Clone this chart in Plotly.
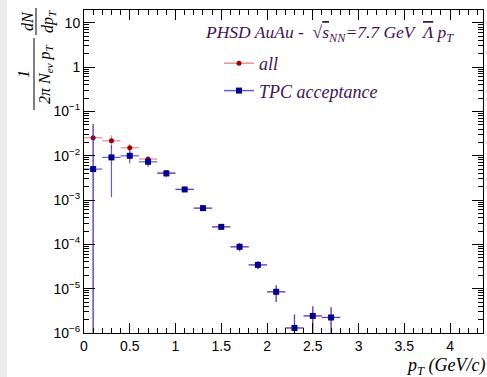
import plotly.graph_objects as go

# ---- data ----
pt = [0.1, 0.3, 0.5, 0.7, 0.9, 1.1, 1.3, 1.5, 1.7, 1.9, 2.1, 2.3, 2.5, 2.7]
pt_half_width = [0.1] * len(pt)

all_vals = [0.0254, 0.0217, 0.0151, 0.0084, 0.0042, 0.00175, 0.000656, 0.000248,
            8.8e-5, 3.44e-5, 8.5e-6, 1.3e-6, 2.43e-6, 2.24e-6]
all_err = [0.026, 0.0070, 0.0035, 0.0012, 0.0004, 0.00010, 2.5e-5, 1.2e-5,
           1.8e-5, 7e-6, 3.5e-6, 1.3e-6, 1.6e-6, 1.56e-6]

tpc_vals = [0.00499, 0.00916, 0.00995, 0.00728, 0.00398, 0.00173, 0.000656, 0.000248,
            8.8e-5, 3.44e-5, 8.5e-6, 1.3e-6, 2.43e-6, 2.24e-6]
tpc_err = [0.047, 0.0080, 0.0033, 0.0017, 0.0007, 0.00012, 3e-5, 1.2e-5,
           1.8e-5, 7e-6, 3.5e-6, 1.3e-6, 1.6e-6, 1.56e-6]

y_tickvals = [1e-6, 1e-5, 1e-4, 1e-3, 1e-2, 1e-1, 1, 10]
y_ticktext = ["10<sup>−6</sup>", "10<sup>−5</sup>", "10<sup>−4</sup>", "10<sup>−3</sup>",
              "10<sup>−2</sup>", "10<sup>−1</sup>", "1", "10"]
x_tickvals = [0, 0.5, 1, 1.5, 2, 2.5, 3, 3.5, 4]
x_ticktext = ["0", "0.5", "1", "1.5", "2", "2.5", "3", "3.5", "4"]

# ---- styling ----
RED_M = "#a00000"
RED_L = "rgba(205,60,60,0.55)"
BLUE_M = "#000090"
BLUE_L = "rgba(40,40,200,0.75)"
TXT = "#3f1552"
SERIF = "Liberation Serif"
SANS = "Liberation Sans"

W, H = 487, 377
L, R, T, B = 84, 4, 10, 44
PW, PH = W - L - R, H - T - B


def px(xp):
    return (xp - L) / PW


def py(yp):
    return (H - B - yp) / PH


fig = go.Figure()

fig.add_trace(go.Scatter(
    x=pt, y=all_vals, mode="markers", showlegend=False,
    marker=dict(symbol="circle", size=5, color=RED_M),
    error_x=dict(type="data", array=pt_half_width, color=RED_L, thickness=1.3, width=0),
    error_y=dict(type="data", array=all_err, color=RED_L, thickness=1.3, width=0),
))
fig.add_trace(go.Scatter(
    x=pt, y=tpc_vals, mode="markers", showlegend=False,
    marker=dict(symbol="square", size=6, color=BLUE_M),
    error_x=dict(type="data", array=pt_half_width, color=BLUE_L, thickness=1.2, width=0),
    error_y=dict(type="data", array=tpc_err, color=BLUE_L, thickness=1.2, width=0),
))

# legend-only entries
fig.add_trace(go.Scatter(
    x=[None], y=[None], mode="lines+markers", name="all", legendgroup="a",
    line=dict(color=RED_L, width=1.5), marker=dict(symbol="circle", size=5, color=RED_M),
))
fig.add_trace(go.Scatter(
    x=[None], y=[None], mode="lines+markers", name="TPC acceptance", legendgroup="b",
    line=dict(color=BLUE_L, width=1.5), marker=dict(symbol="square", size=6, color=BLUE_M),
))

axis_common = dict(
    showline=True, linecolor="black", linewidth=1, mirror="allticks",
    ticks="inside", tickcolor="black", showgrid=False, zeroline=False,
    tickfont=dict(family=SANS, size=14, color="black"),
)

fig.update_xaxes(
    range=[0, 4.36], tickmode="array", tickvals=x_tickvals, ticktext=x_ticktext,
    ticklen=10,
    minor=dict(ticks="inside", ticklen=5, tickcolor="black", dtick=0.1, showgrid=False),
    **axis_common,
)
fig.update_yaxes(
    type="log", range=[-6, 1.287], tickmode="array", tickvals=y_tickvals, ticktext=y_ticktext,
    ticklen=11,
    minor=dict(ticks="inside", ticklen=5, tickcolor="black", dtick="D1", showgrid=False),
    **axis_common,
)

annotations = [
    dict(text="PHSD AuAu -  √<span style='text-decoration:overline'>s</span><sub>NN</sub>=7.7 GeV  "
              "<span style='text-decoration:overline'>Λ</span> p<sub>T</sub>",
         x=px(203), y=py(33), xanchor="left", yanchor="middle",
         font=dict(family=SERIF, size=17.5, color=TXT, style="italic")),
    dict(text="p<sub>T</sub> (GeV/c)", x=1, xshift=4, y=py(366), xanchor="right", yanchor="middle",
         font=dict(family=SERIF, size=18, color="black", style="italic")),
    dict(text="dN", x=px(28), y=py(21), textangle=-90, xanchor="center", yanchor="middle",
         font=dict(family=SERIF, size=16, color="black", style="italic")),
    dict(text="dp<sub>T</sub>", x=px(49), y=py(22), textangle=-90, xanchor="center", yanchor="middle",
         font=dict(family=SERIF, size=16, color="black", style="italic")),
    dict(text="1", x=px(24), y=py(74), textangle=-90, xanchor="center", yanchor="middle",
         font=dict(family=SERIF, size=16, color="black", style="italic")),
    dict(text="2π N<sub>ev</sub> p<sub>T</sub>", x=px(46), y=py(74), textangle=-90,
         xanchor="center", yanchor="middle",
         font=dict(family=SERIF, size=16, color="black", style="italic")),
]
for a in annotations:
    a.update(xref="paper", yref="paper", showarrow=False)

shapes = [
    dict(type="rect", xref="paper", yref="paper", x0=px(0), x1=px(7), y0=py(H + 5), y1=py(-5),
         fillcolor="#ececec", line=dict(width=0), layer="below"),
    dict(type="line", xref="paper", yref="paper", x0=px(36), x1=px(36), y0=py(8), y1=py(35),
         line=dict(color="black", width=1)),
    dict(type="line", xref="paper", yref="paper", x0=px(34), x1=px(34), y0=py(38), y1=py(110),
         line=dict(color="black", width=1)),
]

fig.update_layout(
    width=W, height=H,
    margin=dict(l=L, r=R, t=T, b=B),
    paper_bgcolor="white", plot_bgcolor="white",
    annotations=annotations, shapes=shapes,
    showlegend=True,
    legend=dict(x=px(219), y=py(45), xanchor="left", yanchor="top",
                bgcolor="rgba(0,0,0,0)", tracegroupgap=1,
                font=dict(family=SERIF, size=18, color=TXT, style="italic")),
)

fig.write_html("out.html")
